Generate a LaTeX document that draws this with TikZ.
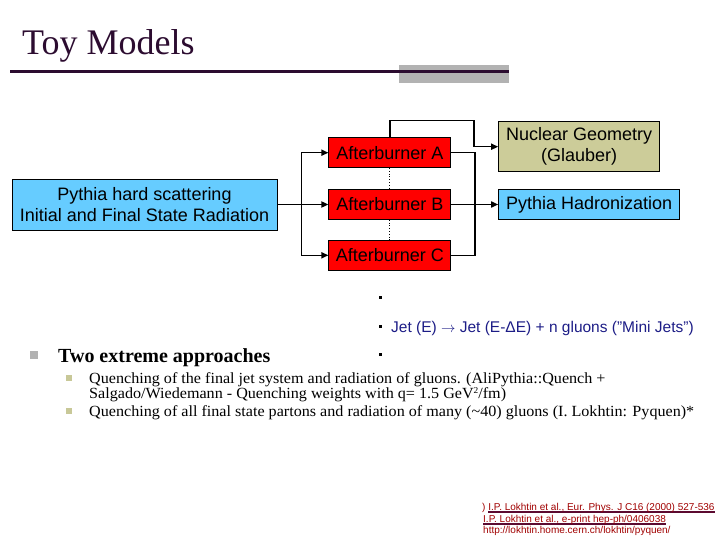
\documentclass[tikz,border=0pt]{standalone}
\usepackage{fontspec}
\setmainfont{Liberation Serif}
\setsansfont{Liberation Sans}
\newfontfamily\slidefont[FakeStretch=1.04]{Liberation Serif}
\usepackage{xcolor}
\usetikzlibrary{arrows.meta,positioning,calc}

\definecolor{titlepurple}{HTML}{2C0C30}
\definecolor{bandgray}{HTML}{B2B2B2}
\definecolor{pythiablue}{HTML}{66CCFF}
\definecolor{afterred}{HTML}{FF0000}
\definecolor{nuclearkhaki}{HTML}{CCCC99}
\definecolor{jetblue}{HTML}{1C1C86}
\definecolor{subkhaki}{HTML}{C8C898}
\definecolor{refred}{HTML}{A00000}
\definecolor{refline}{HTML}{5C0A30}

\newcommand{\refbar}[1]{\setbox0\hbox{#1}\rlap{\color{refline}\rule[-2.6pt]{\wd0}{1.3pt}}\box0}
\newcommand{\supsq}{\raisebox{4.5pt}{\fontsize{9}{9}\selectfont 2}}

\begin{document}
\begin{tikzpicture}[
    x=1pt, y=-1pt,
    font=\sffamily\fontsize{18}{21}\selectfont,
    box/.style={draw=black, line width=0.8pt, align=center, inner sep=0pt},
    burner/.style={box, fill=afterred, minimum width=122pt, minimum height=30pt},
    arr/.style={-{Triangle[length=7pt,width=6pt]}, line width=1.6pt},
    link/.style={line width=1.6pt},
    txt/.style={anchor=base west, inner sep=0pt},
    quench/.style={txt, font=\slidefont\fontsize{15.5}{15}\selectfont},
    sq/.style={inner sep=0pt, minimum size=#1}
]
\useasboundingbox (0,0) rectangle (720,540);

\node[txt, font=\rmfamily\fontsize{36}{40}\selectfont, text=titlepurple] (title) at (22,55) {Toy Models};
\fill[bandgray] (399,65) rectangle (509,83);
\draw[titlepurple, line width=3pt] (10,72) -- (509,72);

\node[box, fill=pythiablue, minimum width=265pt, minimum height=51pt] (pythia) at (144.5,204.5) {Pythia hard scattering\\Initial and Final State Radiation};
\node[burner, right=51pt of pythia] (burnB) {Afterburner B};
\node[burner, above=21pt of burnB] (burnA) {Afterburner A};
\node[burner, below=20pt of burnB] (burnC) {Afterburner C};
\node[box, fill=pythiablue, minimum width=181pt, minimum height=30pt, right=47pt of burnB] (hadron) {Pythia Hadronization};
\node[box, fill=nuclearkhaki, minimum width=161pt, minimum height=50pt, above right=17pt and 0pt of hadron.north west] (nuclear) {Nuclear Geometry\\(Glauber)};

\coordinate (split) at ($(burnB.west)+(-27,0)$);
\coordinate (geombend) at ($(nuclear.west)+(-24,-26)$);
\coordinate (merge) at ($(hadron.west)+(-23,0)$);

\draw[arr] (pythia) -- (burnB);
\draw[arr] (split) |- (burnA.west);
\draw[arr] (split) |- (burnC.west);
\draw[dotted, line width=0.8pt] (burnA) -- (burnB);
\draw[dotted, line width=0.8pt] (burnB) -- (burnC);
\draw[arr] (burnA.north) |- (geombend) |- (nuclear.west);
\draw[link] (burnA.east) -| (merge);
\draw[link] (burnC.east) -| (merge);
\draw[arr] (burnB) -- (hadron);

\node[sq=3pt, fill=black] (dot1) at (380,297) {};
\node[sq=3pt, fill=black] (dot2) at (380,326) {};
\node[sq=3pt, fill=black] (dot3) at (380,354) {};
\node[txt, font=\sffamily\fontsize{15.5}{18}\selectfont, text=jetblue] (jet) at (391,332) {Jet (E) $\rightarrow$ Jet (E-ΔE) + n gluons ("Mini Jets")};

\node[sq=8pt, fill=bandgray] (mainsq) at (34,355) {};
\node[txt, font=\rmfamily\bfseries\fontsize{20}{22}\selectfont] (approach) at (58,362) {Two extreme approaches};
\node[sq=6pt, fill=subkhaki] (subsq1) at (68.5,378) {};
\node[sq=6pt, fill=subkhaki] (subsq2) at (68.5,411) {};
\node[quench] (quench1) at (89,383) {Quenching of the final jet system and radiation of gluons. (AliPythia::Quench +};
\node[quench] (quench1b) at (89,398) {Salgado/Wiedemann - Quenching weights with q= 1.5 GeV\supsq/fm)};
\node[quench] (quench2) at (89,416) {Quenching of all final state partons and radiation of many (\textasciitilde40) gluons (I. Lokhtin: Pyquen)*};

\node[txt, font=\sffamily\fontsize{10}{12}\selectfont, text=refred] (ref1) at (482,510) {) \refbar{I.P. Lokhtin et al., Eur. Phys. J C16 (2000) 527-536}};
\node[txt, font=\sffamily\fontsize{10}{12}\selectfont, text=refred] (ref2) at (483,522) {\refbar{I.P. Lokhtin et al., e-print hep-ph/0406038}};
\node[txt, font=\sffamily\fontsize{10}{12}\selectfont, text=refred] (ref3) at (483,533) {http://lokhtin.home.cern.ch/lokhtin/pyquen/};
\end{tikzpicture}
\end{document}
